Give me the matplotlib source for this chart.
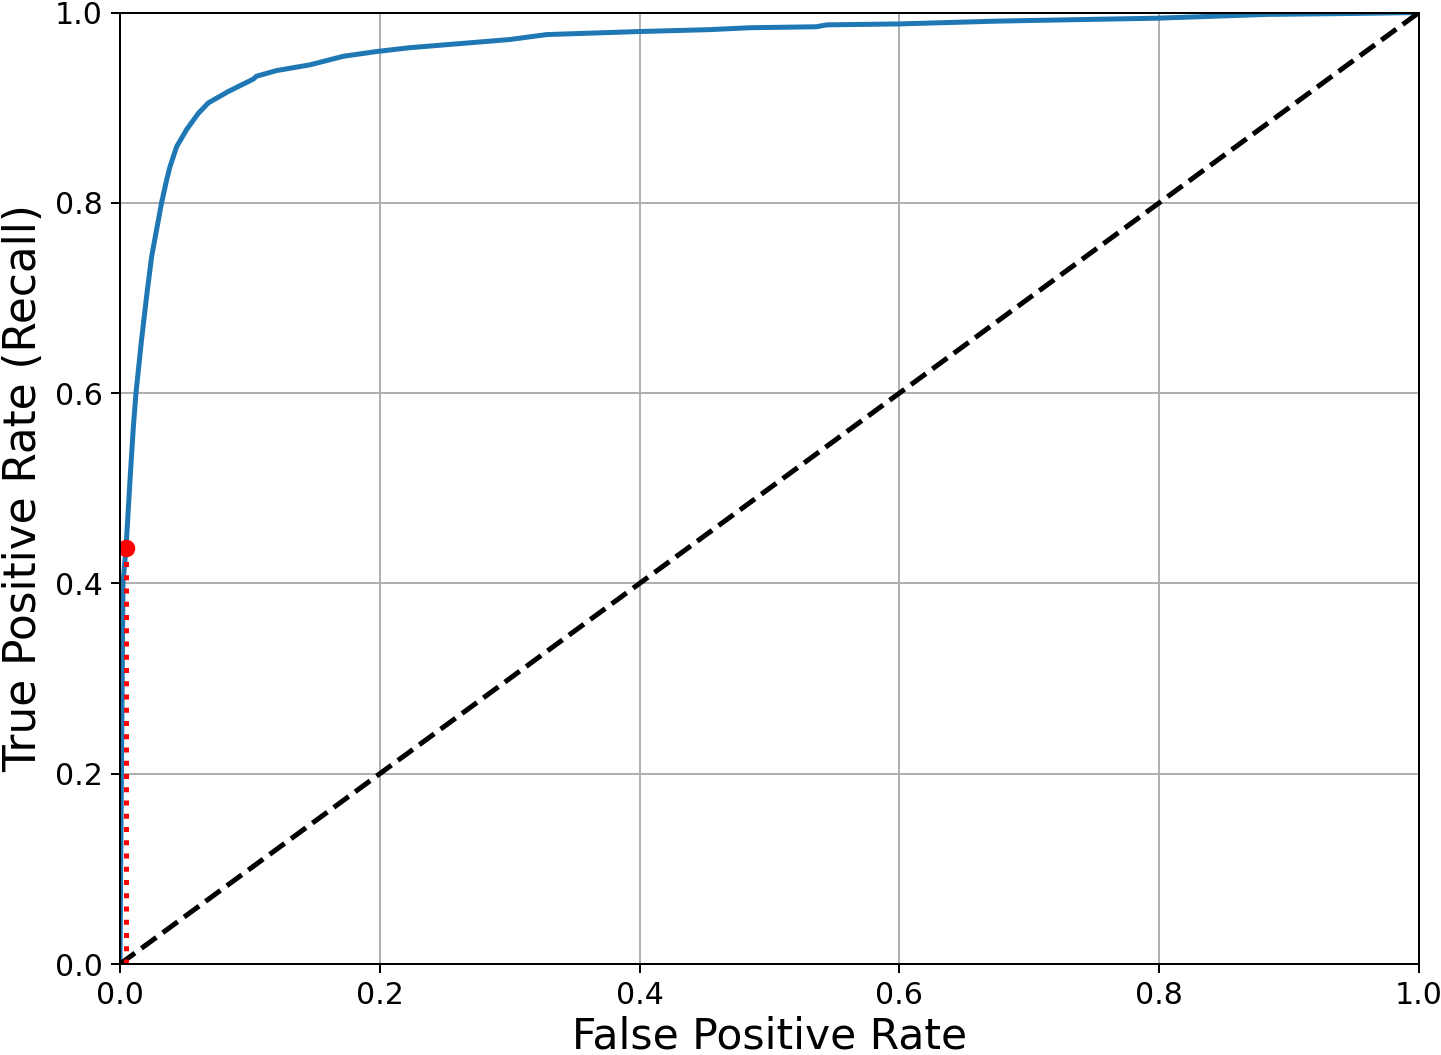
import matplotlib
matplotlib.use("Agg")
import matplotlib.pyplot as plt

fpr = [0, 0.0005, 0.0011, 0.0017, 0.0023, 0.0046, 0.008, 0.0103, 0.0123, 0.0165,
       0.0205, 0.0244, 0.0282, 0.032, 0.0359, 0.0385, 0.0436, 0.0513, 0.0603, 0.068,
       0.0834, 0.1026, 0.105, 0.1206, 0.1463, 0.172, 0.1976, 0.223, 0.300, 0.3285,
       0.400, 0.454, 0.485, 0.536, 0.544, 0.600, 0.677, 0.798, 0.883, 0.95, 1.0]
tpr = [0, 0.1, 0.2, 0.3, 0.4, 0.437, 0.515, 0.565, 0.600, 0.655,
       0.702, 0.744, 0.772, 0.800, 0.824, 0.838, 0.859, 0.877, 0.894, 0.905,
       0.917, 0.930, 0.933, 0.939, 0.945, 0.954, 0.959, 0.963, 0.9716, 0.9768,
       0.980, 0.982, 0.984, 0.985, 0.987, 0.988, 0.991, 0.994, 0.998, 0.999, 1.0]

fpr_point = 0.0046
tpr_point = 0.437

DPI = 180
fig = plt.figure(figsize=(1441 / DPI, 1055 / DPI), dpi=DPI)
ax = fig.add_axes([120 / 1441, (1055 - 964) / 1055, (1419 - 120) / 1441, (964 - 12.5) / 1055])

ax.plot(fpr, tpr, linewidth=2, color="#1f77b4")
ax.plot([0, 1], [0, 1], "k--", linewidth=2)
ax.plot([fpr_point, fpr_point], [0.0, tpr_point], "r:", linewidth=2)
ax.plot([0.0, fpr_point], [tpr_point, tpr_point], "r:", linewidth=2)
ax.plot([fpr_point], [tpr_point], "ro")

ax.axis([0, 1, 0, 1])
ax.grid(True)
ax.set_xlabel("False Positive Rate", fontsize=17, labelpad=2)
ax.set_ylabel("True Positive Rate (Recall)", fontsize=17.5)
ax.tick_params(labelsize=12)

fig.savefig("out.png", dpi=DPI)
